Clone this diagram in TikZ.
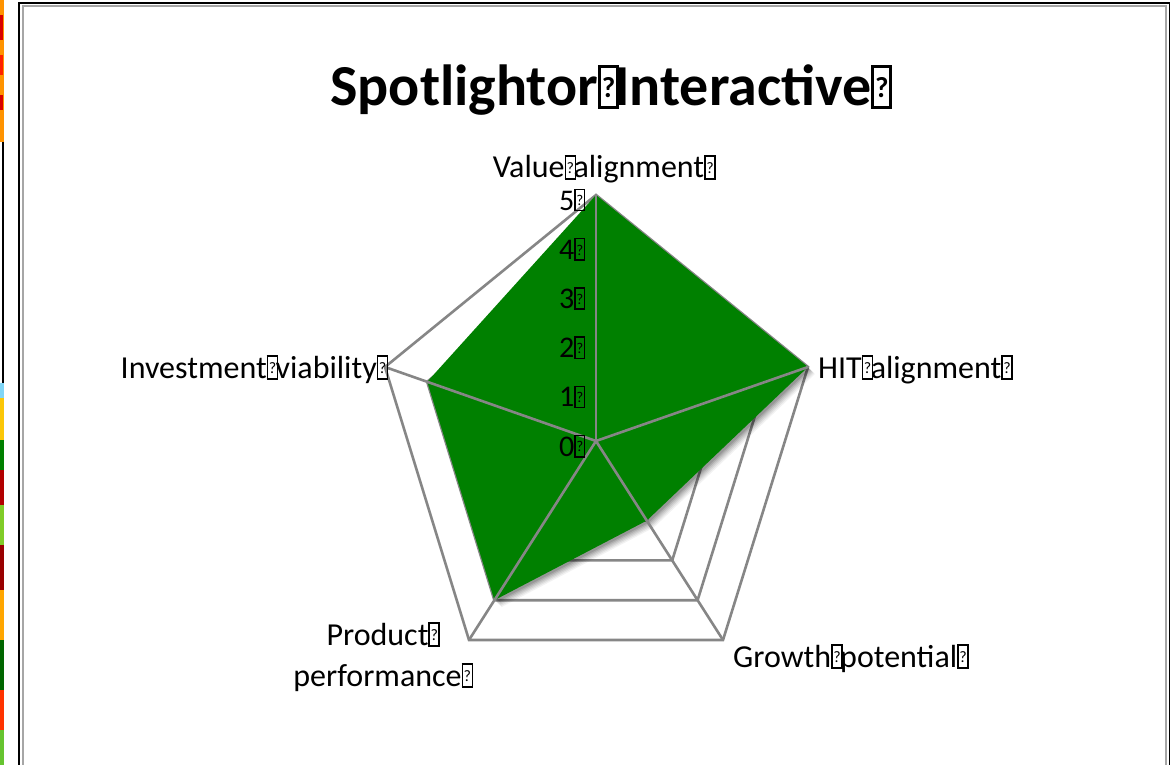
\documentclass[tikz,border=0pt]{standalone}
\usepackage{fontspec}
\setmainfont{Carlito}
\usetikzlibrary{calc}
\definecolor{chartgreen}{RGB}{0,128,0}
\definecolor{gridgray}{RGB}{134,134,134}
\newcommand\bx{\makebox[0.28em][l]{\setlength{\fboxsep}{0pt}\setlength{\fboxrule}{0.05em}\fbox{\makebox[0.26em]{\rule{0pt}{0.66em}\raisebox{0.14em}{\scalebox{0.5}{?}}}}}}
\begin{document}
\begin{tikzpicture}[x=1pt,y=-1pt,
  grid/.style={draw=gridgray, line width=2.6pt, line join=miter},
  lbl/.style={font=\fontsize{32}{41}\selectfont, inner sep=0pt},
  ttl/.style={font=\bfseries\fontsize{58}{70}\selectfont, inner sep=0pt},
  tick/.style={font=\fontsize{30}{34}\selectfont, inner sep=0pt},
  frameouter/.style={draw=black, line width=1.6pt},
  frameinner/.style={draw=gray!70, line width=2pt}]
\useasboundingbox (0,0) rectangle (1173,765);
\fill[white] (0,0) rectangle (1173,765);
% fragments of neighbouring pictures at the left edge
\fill[orange!85!yellow] (0,0) rectangle (4,142);
\fill[red!85!black] (0,15) rectangle (3,40);
\fill[red!75!orange] (0,55) rectangle (3,75);
\fill[red!85!black] (0,95) rectangle (3,110);
\fill[black] (2,142) rectangle (4,383);
\fill[cyan!50] (0,383) rectangle (4,398);
\fill[yellow!60!orange] (0,398) rectangle (4,440);
\fill[green!50!black] (0,440) rectangle (4,470);
\fill[red!70!black] (0,470) rectangle (4,505);
\fill[yellow!50!green] (0,505) rectangle (4,545);
\fill[red!60!black] (0,545) rectangle (4,590);
\fill[orange!70!yellow] (0,590) rectangle (4,640);
\fill[green!40!black] (0,640) rectangle (4,690);
\fill[red!60!orange] (0,690) rectangle (4,730);
\fill[yellow!40!green] (0,730) rectangle (4,765);
% frame
\draw[frameouter] (19,765) -- (19,3) -- (1169.5,3) -- (1169.5,765);
\draw[frameinner] (22.5,765) -- (22.5,6) -- (1166,6) -- (1166,765);
% chart geometry
\coordinate (C) at (596,441);
\coordinate (V) at (596,195);
\coordinate (H) at (808,367);
\coordinate (G) at (723,640);
\coordinate (P) at (469,640);
\coordinate (I) at (385,367);
% rings
\foreach \k in {1,...,5}
  \draw[grid] ($(C)!\k/5!(V)$) -- ($(C)!\k/5!(H)$) -- ($(C)!\k/5!(G)$) -- ($(C)!\k/5!(P)$) -- ($(C)!\k/5!(I)$) -- cycle;
% data points
\coordinate (D1) at (V);
\coordinate (D2) at (H);
\coordinate (D3) at ($(C)!2/5!(G)$);
\coordinate (D4) at ($(C)!4/5!(P)$);
\coordinate (D5) at ($(C)!4/5!(I)$);
% soft shadow
\foreach \d/\o in {7/0.05,6/0.06,5/0.07,4/0.08,3/0.1,2/0.12}
  \fill[black,opacity=\o] ([shift={(\d,\d)}]D1) -- ([shift={(\d,\d)}]D2) -- ([shift={(\d,\d)}]D3) -- ([shift={(\d,\d)}]D4) -- ([shift={(\d,\d)}]D5) -- cycle;
\fill[chartgreen] (D1) -- (D2) -- (D3) -- (D4) -- (D5) -- cycle;
% spokes
\draw[grid] (C) -- (V);
\draw[grid] (C) -- (H);
\draw[grid] (C) -- (G);
\draw[grid] (C) -- (P);
\draw[grid] (C) -- (I);
% tick labels
\foreach \k in {0,...,5}
  \node[tick, anchor=base east] (t\k) at ($(C)!\k/5!(V)+(-13,15)$) {\k\bx};
% category labels
\node[ttl, anchor=base] (title) at (609,106) {Spotlightor\bx Interactive\bx};
\node[lbl, anchor=base] (lV) at (603,178) {Value\bx alignment\bx};
\node[lbl, anchor=base west] (lH) at (818,378) {HIT\bx alignment\bx};
\node[lbl, anchor=base west] (lG) at (733,667) {Growth\bx potential\bx};
\node[lbl, anchor=base east] (lI) at (386,378) {Investment\bx viability\bx};
\node[lbl, anchor=base, align=center] (lP) at (382,686) {Product\bx\\performance\bx};
\end{tikzpicture}
\end{document}
